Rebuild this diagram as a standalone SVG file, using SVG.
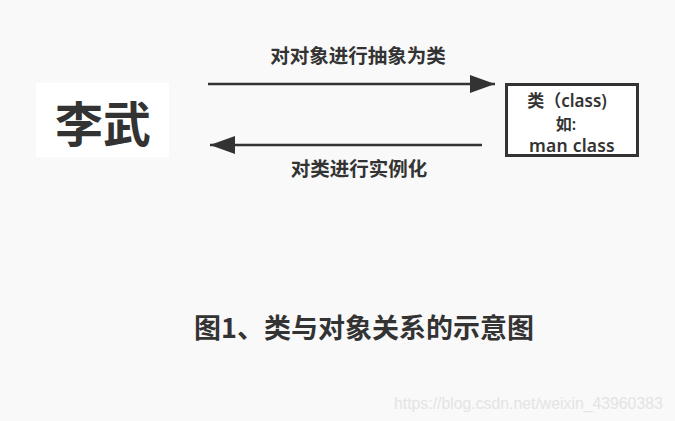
<svg xmlns="http://www.w3.org/2000/svg" width="675" height="421" viewBox="0 0 675 421">
  <defs>
    <style>
      .cjk { font-family: "Noto Sans CJK SC", "Noto Sans", sans-serif; font-weight: bold; fill: #333333; }
      .mix { font-family: "Noto Sans", "Noto Sans CJK SC", sans-serif; font-weight: 600; fill: #333333; }
      .conn { stroke: #333333; stroke-width: 2.5; fill: none; }
      .wm { font-family: "Liberation Sans", Arial, sans-serif; fill: #e4e4e4; }
    </style>
    <marker id="arrow" viewBox="0 0 25 18" refX="25" refY="9" markerWidth="25" markerHeight="18" markerUnits="userSpaceOnUse" orient="auto">
      <path d="M0,0 L25,9 L0,18 Z" fill="#333333"/>
    </marker>
  </defs>
  <rect x="0" y="0" width="675" height="421" fill="#f9f9f9"/>

  <g id="node-liwu">
    <rect x="36" y="83" width="133" height="74" fill="#ffffff"/>
    <text class="cjk" x="103" y="142" font-size="48" text-anchor="middle">李武</text>
  </g>

  <g id="node-class">
    <rect x="506.5" y="84.5" width="131" height="71" fill="#ffffff" stroke="#333333" stroke-width="3"/>
    <text class="mix" x="567" y="107" font-size="17" text-anchor="middle">类（class)</text>
    <text class="mix" x="566" y="130" font-size="16" text-anchor="middle">如:</text>
    <text class="mix" x="572" y="152" font-size="17.5" letter-spacing="0.2" text-anchor="middle">man class</text>
  </g>

  <g id="connectors">
    <line class="conn" x1="208" y1="84" x2="495" y2="84" marker-end="url(#arrow)"/>
    <text class="cjk" x="358" y="63" font-size="19.5" text-anchor="middle">对对象进行抽象为类</text>
    <line class="conn" x1="482" y1="145" x2="210" y2="145" marker-end="url(#arrow)"/>
    <text class="cjk" x="359" y="176" font-size="19.5" text-anchor="middle">对类进行实例化</text>
  </g>

  <text class="cjk" x="194" y="338" font-size="27">图1、类与对象关系的示意图</text>
  <text class="wm" x="394" y="409" font-size="15.8">https://blog.csdn.net/weixin_43960383</text>
</svg>
